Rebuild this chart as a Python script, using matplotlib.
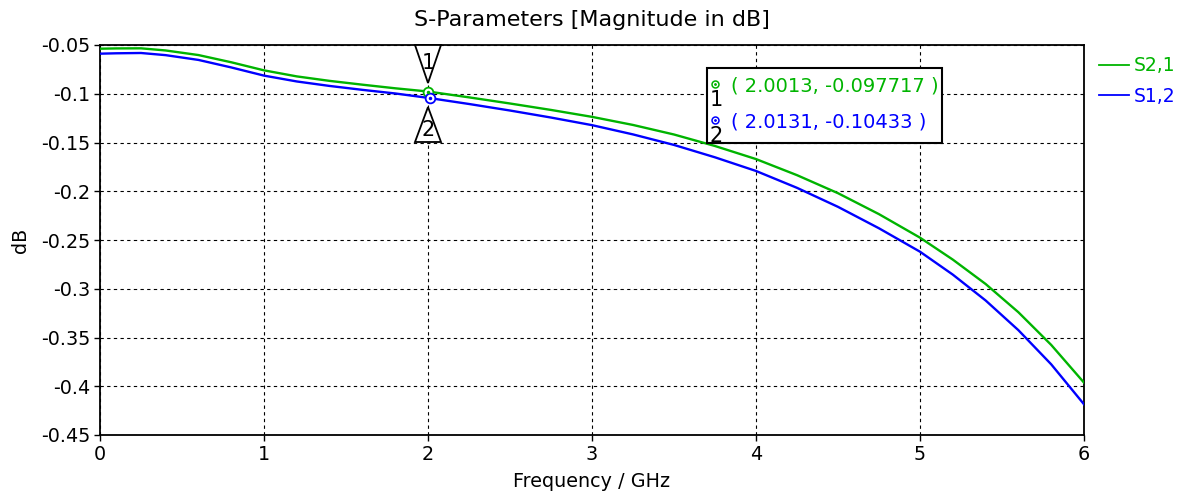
import matplotlib
matplotlib.use("Agg")
import matplotlib.pyplot as plt
from matplotlib.patches import Polygon, Rectangle
from matplotlib.lines import Line2D
from matplotlib.transforms import offset_copy, blended_transform_factory

# Frequency sweep (GHz) and S-parameter magnitudes (dB)
freq_ghz = [0.0, 0.1, 0.25, 0.4, 0.6, 0.8, 1.0, 1.2, 1.4, 1.6, 1.8, 2.0, 2.25,
            2.5, 2.75, 3.0, 3.25, 3.5, 3.75, 4.0, 4.25, 4.5, 4.75, 5.0,
            5.2, 5.4, 5.6, 5.8, 6.0]
s21_db = [-0.0538, -0.0535, -0.0534, -0.0556, -0.0603, -0.0677, -0.0760, -0.0822,
          -0.0868, -0.0907, -0.0944, -0.0977, -0.1037, -0.1100, -0.1166,
          -0.1237, -0.1320, -0.1418, -0.1536, -0.1670, -0.1835, -0.2020,
          -0.2235, -0.2476, -0.2701, -0.2951, -0.3241, -0.3576, -0.3963]
s12_db = [-0.0589, -0.0585, -0.0582, -0.0604, -0.0653, -0.0730, -0.0814, -0.0874,
          -0.0920, -0.0960, -0.0997, -0.1042, -0.1105, -0.1172, -0.1244,
          -0.1322, -0.1417, -0.1525, -0.1652, -0.1792, -0.1965, -0.2160,
          -0.2380, -0.2620, -0.2855, -0.3120, -0.3425, -0.3775, -0.4185]

series_names = ["S2,1", "S1,2"]
series_colors = ["#00b400", "#0000ff"]

# Marker readouts
marker_ids = ["1", "2"]
marker_x = [2.0013, 2.0131]
marker_y = [-0.097717, -0.10433]

x_ticks = [0, 1, 2, 3, 4, 5, 6]
y_ticks = [-0.05, -0.1, -0.15, -0.2, -0.25, -0.3, -0.35, -0.4, -0.45]
y_tick_labels = ["-0.05", "-0.1", "-0.15", "-0.2", "-0.25", "-0.3", "-0.35", "-0.4", "-0.45"]

plt.rcParams["font.family"] = ["DejaVu Sans"]

W, H = 1187, 503
fig = plt.figure(figsize=(W / 100, H / 100), dpi=100)
ax = fig.add_axes([100 / W, 1 - 435 / H, 984 / W, 390 / H])

for name, ys, col in zip(series_names, [s21_db, s12_db], series_colors):
    ax.plot(freq_ghz, ys, color=col, lw=1.7, label=name, zorder=3)

ax.set_xlim(0, 6)
ax.set_ylim(-0.45, -0.05)
ax.set_xticks(x_ticks)
ax.set_yticks(y_ticks)
ax.set_yticklabels(y_tick_labels)
ax.tick_params(direction="out", length=4, width=1, labelsize=13.8, colors="black", pad=3)
ax.grid(True, color="black", linestyle=(0, (3, 3)), lw=0.8)
for sp in ax.spines.values():
    sp.set_linewidth(1.3)
    sp.set_color("black")

ax.set_title("S-Parameters [Magnitude in dB]", fontsize=16, pad=14)
ax.set_xlabel("Frequency / GHz", fontsize=13.8, labelpad=6)
ax.set_ylabel("dB", fontsize=13.8, labelpad=8)

# Marker points on the curves
for mx, my, col in zip(marker_x, marker_y, series_colors):
    ax.plot([mx], [my], marker="o", ms=7, mfc="white", mec=col, mew=1.3, zorder=5)
    ax.plot([mx], [my], marker=".", ms=3, color=col, zorder=6)


def flag(x_data, y_axes, verts_px, label, label_off):
    """Triangular marker flag drawn at a pixel offset from a data x / axes y anchor."""
    base = blended_transform_factory(ax.transData, ax.transAxes)
    pts = []
    for vx, vy in verts_px:
        t = offset_copy(base, fig=fig, x=vx, y=vy, units="dots")
        pts.append(t.transform((x_data, y_axes)))
    poly = Polygon(pts, closed=True, fill=True, facecolor="white",
                   edgecolor="black", lw=1.3, transform=None, zorder=7, clip_on=False)
    fig.add_artist(poly)
    lt = offset_copy(base, fig=fig, x=label_off[0], y=label_off[1], units="dots")
    lbl = plt.Text(x_data, y_axes, label, transform=lt, ha="center", va="center",
                   fontsize=15, color="black", zorder=8)
    fig.add_artist(lbl)


flag(2.0, 1.0, [(-13, 0), (13, 0), (0, -38)], "1", (0, -18))
flag(2.0, 0.0, [(-13, 293), (13, 293), (0, 328)], "2", (0, 305))

# Readout box
box_l, box_r, box_t, box_b = 707, 942, 68, 143
fig.add_artist(Rectangle((box_l / W, 1 - box_b / H), (box_r - box_l) / W, (box_b - box_t) / H,
                         transform=fig.transFigure, facecolor="white", edgecolor="black",
                         lw=1.5, zorder=9))
rows_y = [86, 122]
for mid, mx, my, col, ry in zip(marker_ids, marker_x, marker_y, series_colors, rows_y):
    sym_x, sym_y = 715 / W, 1 - (ry - 2) / H
    fig.add_artist(Line2D([sym_x], [sym_y], marker="o", ms=5, mfc="white", mec=col,
                          mew=1.1, transform=fig.transFigure, zorder=10))
    fig.add_artist(Line2D([sym_x], [sym_y], marker=".", ms=2, color=col,
                          transform=fig.transFigure, zorder=11))
    fig.text(716 / W, 1 - (ry + 14) / H, mid, color="black", fontsize=15, ha="center",
             va="center", zorder=10)
    fig.text(731 / W, 1 - ry / H, f"( {mx:.4f}, {my:.6g} )", color=col, fontsize=14,
             ha="left", va="center", zorder=10)

# Legend outside the plot area
leg = ax.legend(loc="upper left", bbox_to_anchor=(1.008, 0.99), frameon=False,
                fontsize=13.5, handlelength=1.6, handletextpad=0.25, labelspacing=0.62,
                borderaxespad=0)
for txt, col in zip(leg.get_texts(), series_colors):
    txt.set_color(col)
for ln in leg.get_lines():
    ln.set_linewidth(1.3)

fig.savefig("out.png", dpi=100)
